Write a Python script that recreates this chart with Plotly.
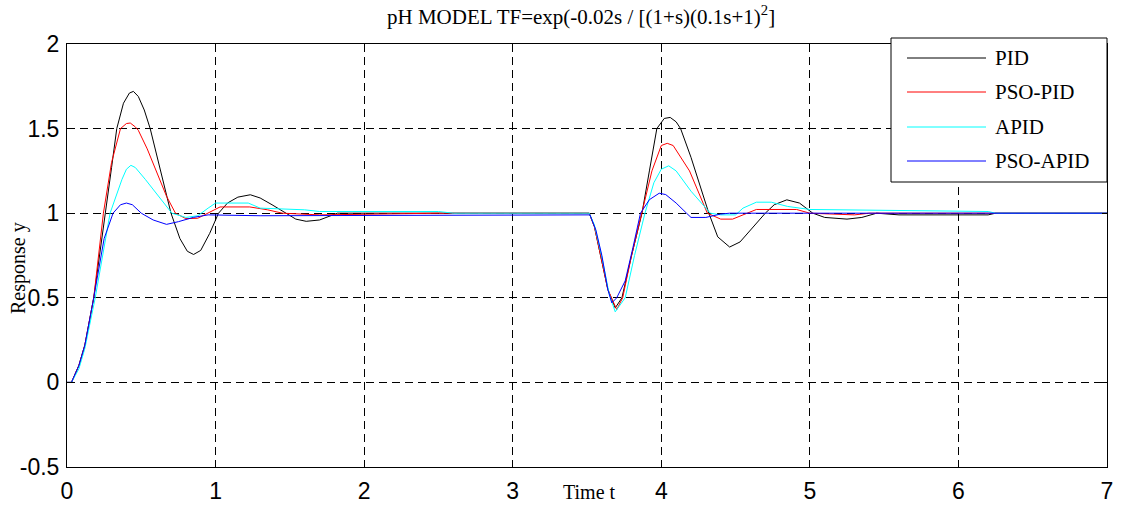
import plotly.graph_objects as go

# ---- data: step / disturbance responses of the pH model ----
t_pid = [0, 0.03, 0.08, 0.12, 0.18, 0.22, 0.26, 0.30, 0.335, 0.38, 0.42, 0.447, 0.48, 0.52,
         0.56, 0.62, 0.70, 0.76, 0.81, 0.852, 0.90, 0.96, 1.02, 1.08, 1.15, 1.234, 1.30, 1.38,
         1.47, 1.54, 1.61, 1.70, 1.82, 2.0, 3.515, 3.55, 3.59, 3.64, 3.69, 3.735, 3.80, 3.87,
         3.92, 3.97, 4.02, 4.06, 4.10, 4.13, 4.20, 4.26, 4.32, 4.38, 4.46, 4.53, 4.62, 4.70,
         4.76, 4.845, 4.93, 5.02, 5.10, 5.25, 5.35, 5.45, 5.6, 6.2, 6.25, 7.0]
y_pid = [0, 0, 0.10, 0.22, 0.50, 0.75, 1.00, 1.27, 1.50, 1.65, 1.71, 1.72, 1.69, 1.61,
         1.50, 1.28, 1.00, 0.85, 0.775, 0.756, 0.78, 0.88, 1.00, 1.06, 1.095, 1.109, 1.09, 1.05,
         1.00, 0.965, 0.952, 0.96, 1.00, 1.00, 1.00, 0.92, 0.75, 0.55, 0.44, 0.50, 0.75, 1.00,
         1.25, 1.50, 1.56, 1.566, 1.54, 1.50, 1.33, 1.16, 1.00, 0.86, 0.80, 0.83, 0.92, 1.00,
         1.05, 1.079, 1.06, 1.00, 0.975, 0.965, 0.975, 1.00, 0.99, 0.99, 1.00, 1.00]

t_psopid = [0, 0.03, 0.08, 0.12, 0.18, 0.245, 0.30, 0.36, 0.40, 0.426, 0.46, 0.48, 0.54, 0.605,
            0.67, 0.73, 0.80, 0.88, 0.95, 1.03, 1.23, 1.35, 1.45, 1.7, 2.5, 3.515, 3.55, 3.59,
            3.64, 3.70, 3.74, 3.80, 3.87, 3.937, 4.0, 4.04, 4.08, 4.19, 4.31, 4.40, 4.48, 4.55,
            4.64, 4.91, 5.0, 5.3, 5.4, 7.0]
y_psopid = [0, 0, 0.10, 0.22, 0.50, 1.00, 1.30, 1.50, 1.53, 1.533, 1.51, 1.49, 1.38, 1.24,
            1.10, 1.00, 0.968, 0.97, 1.00, 1.037, 1.037, 1.02, 1.00, 0.99, 1.00, 1.00, 0.92, 0.75,
            0.55, 0.43, 0.50, 0.75, 1.00, 1.25, 1.40, 1.413, 1.40, 1.25, 1.00, 0.965, 0.965, 0.99,
            1.022, 1.022, 1.00, 0.99, 1.00, 1.00]

t_apid = [0, 0.03, 0.08, 0.12, 0.19, 0.29, 0.37, 0.40, 0.43, 0.46, 0.527, 0.628, 0.706, 0.80,
          0.88, 0.95, 1.00, 1.22, 1.30, 1.60, 1.70, 2.50, 2.60, 3.515, 3.55, 3.60, 3.65, 3.69,
          3.757, 3.82, 3.89, 3.95, 4.00, 4.05, 4.10, 4.20, 4.33, 4.40, 4.50, 4.55, 4.64, 4.74,
          4.85, 5.00, 6.20, 6.25, 7.0]
y_apid = [0, 0, 0.08, 0.20, 0.50, 1.00, 1.20, 1.26, 1.283, 1.27, 1.20, 1.086, 1.00, 0.975,
          0.985, 1.03, 1.06, 1.06, 1.03, 1.02, 1.01, 1.01, 1.00, 1.00, 0.93, 0.74, 0.52, 0.417,
          0.50, 0.75, 1.00, 1.18, 1.26, 1.28, 1.25, 1.13, 1.00, 0.99, 0.99, 1.03, 1.065, 1.065,
          1.04, 1.022, 1.01, 1.00, 1.00]

t_psoapid = [0, 0.03, 0.08, 0.12, 0.18, 0.25, 0.31, 0.36, 0.40, 0.44, 0.50, 0.58, 0.67, 0.75,
             0.85, 0.95, 1.30, 3.52, 3.56, 3.60, 3.64, 3.667, 3.70, 3.757, 3.81, 3.86, 3.92,
             3.986, 4.03, 4.10, 4.17, 4.20, 4.30, 4.40, 4.46, 7.0]
y_psoapid = [0, 0, 0.10, 0.22, 0.50, 0.85, 1.00, 1.05, 1.06, 1.05, 1.00, 0.96, 0.934, 0.95,
             0.975, 0.99, 0.985, 0.99, 0.90, 0.75, 0.55, 0.47, 0.50, 0.60, 0.80, 1.00, 1.08,
             1.118, 1.11, 1.06, 1.00, 0.975, 0.975, 0.995, 1.00, 1.00]

names = ["PID", "PSO-PID", "APID", "PSO-APID"]
colors = ["#000000", "#ff0000", "#00ffff", "#0000ff"]
times = [t_pid, t_psopid, t_apid, t_psoapid]
values = [y_pid, y_psopid, y_apid, y_psoapid]

x_ticks = [0, 1, 2, 3, 4, 5, 6, 7]
y_ticks = [-0.5, 0, 0.5, 1, 1.5, 2]
y_tick_text = ["-0.5", "0", "0.5", "1", "1.5", "2"]

serif = "Liberation Serif, Times New Roman, serif"
sans = "Liberation Sans, Arial, Helvetica, sans-serif"

fig = go.Figure()
for name, t, y, c in zip(names, times, values, colors):
    fig.add_trace(go.Scatter(x=t, y=y, mode="lines", name=name,
                             line=dict(color=c, width=1), showlegend=False))

W, H = 1121, 506
L, R, T, B = 67, 14, 44, 39
pw, ph = W - L - R, H - T - B


def px_x(px):
    return (px - L) / pw


def px_y(py):
    return 1 - (py - T) / ph


axis_common = dict(
    showline=True, linecolor="black", linewidth=1, mirror="ticks",
    ticks="inside", ticklen=5, tickcolor="black",
    showgrid=True, gridcolor="black", gridwidth=1, griddash="8px,5px",
    zeroline=False, tickfont=dict(family=sans, size=23, color="black"),
)

fig.update_xaxes(range=[0, 7], tickvals=x_ticks, ticklabelstandoff=3, **axis_common)
fig.update_yaxes(range=[-0.5, 2], tickvals=y_ticks, ticktext=y_tick_text,
                 ticklabelstandoff=2, **axis_common)

annotations = [
    dict(text="pH MODEL TF=exp(-0.02s / [(1+s)(0.1s+1)<sup>2</sup>]",
         xref="paper", yref="paper", x=px_x(581), y=px_y(15), xanchor="center",
         yanchor="middle", showarrow=False, font=dict(family=serif, size=21, color="black")),
    dict(text="Time t", xref="paper", yref="paper", x=px_x(589), y=px_y(492),
         xanchor="center", yanchor="middle", showarrow=False,
         font=dict(family=serif, size=20, color="black")),
    dict(text="Response y", xref="paper", yref="paper", x=px_x(18), y=px_y(268),
         xanchor="center", yanchor="middle", textangle=-90, showarrow=False,
         font=dict(family=serif, size=20, color="black")),
]

# legend box drawn as shapes + text
leg_l, leg_r, leg_t, leg_b = 891, 1107, 38, 182
shapes = [dict(type="rect", xref="paper", yref="paper", layer="above",
               x0=px_x(leg_l), x1=px_x(leg_r), y0=px_y(leg_b), y1=px_y(leg_t),
               line=dict(color="black", width=1), fillcolor="white")]
row_y = [58, 92, 127, 161]
for name, c, ry in zip(names, colors, row_y):
    shapes.append(dict(type="line", xref="paper", yref="paper", layer="above",
                       x0=px_x(907), x1=px_x(986), y0=px_y(ry), y1=px_y(ry),
                       line=dict(color=c, width=1)))
    annotations.append(dict(text=name, xref="paper", yref="paper", x=px_x(993), y=px_y(ry),
                            xanchor="left", yanchor="middle", showarrow=False,
                            font=dict(family=serif, size=21, color="black")))

fig.update_layout(
    width=W, height=H,
    margin=dict(l=L, r=R, t=T, b=B, autoexpand=False),
    paper_bgcolor="white", plot_bgcolor="white",
    annotations=annotations, shapes=shapes,
)

fig.write_html("out.html", config={"displayModeBar": False})
